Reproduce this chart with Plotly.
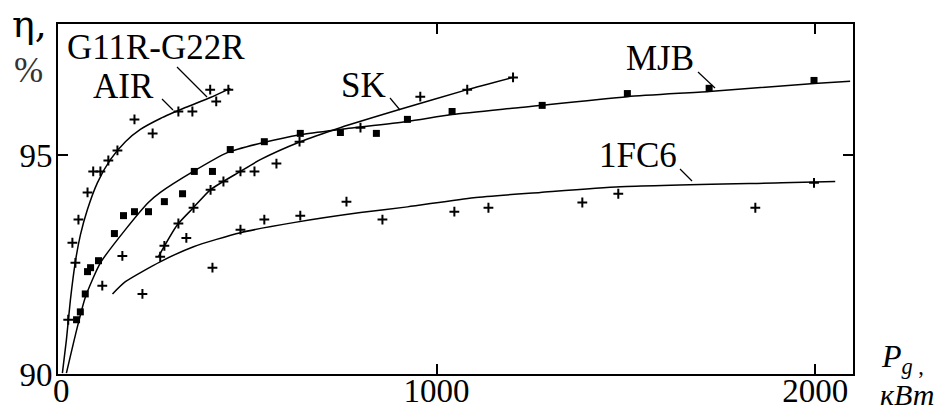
import plotly.graph_objects as go

# ---------------- data (P in kW, efficiency in %) ----------------
# G11R-G22R / AIR (plus markers)
air_pts_x = [27, 38, 46, 54, 78, 93, 112, 133, 157, 202, 250, 318, 355, 402, 418, 450]
air_pts_y = [91.24, 93.0, 92.54, 93.53, 94.15, 94.63, 94.63, 94.88, 95.11, 95.82, 95.50, 96.0, 96.0, 96.5, 96.23, 96.5]
air_fit_x = [11.6, 22.2, 32.7, 45.9, 59.2, 77.7, 104.0, 138.4, 178.0, 217.6, 270.4, 336.4, 402.4, 455.3]
air_fit_y = [90.02, 90.78, 91.69, 92.57, 93.18, 93.76, 94.37, 94.90, 95.31, 95.59, 95.84, 96.09, 96.32, 96.53]

# MJB (square markers)
mjb_pts_x = [49, 59, 72, 78, 86, 107, 149, 173, 202, 239, 281, 329, 360, 408, 455, 545, 640, 746, 841, 923, 1041, 1279, 1504, 1720, 1997]
mjb_pts_y = [91.24, 91.42, 91.83, 92.34, 92.43, 92.59, 93.21, 93.62, 93.71, 93.71, 93.94, 94.12, 94.63, 94.63, 95.13, 95.31, 95.50, 95.52, 95.50, 95.82, 96.0, 96.14, 96.41, 96.53, 96.71]
mjb_fit_x = [22.2, 45.9, 72.4, 112.0, 178.0, 238.7, 270.4, 357.5, 447.3, 542.4, 640.0, 745.6, 922.6, 1041.4, 1221, 1503.6, 1720.1, 1997.4, 2092.4]
mjb_fit_y = [90.02, 90.89, 91.76, 92.54, 93.30, 93.92, 94.15, 94.63, 95.06, 95.29, 95.47, 95.59, 95.77, 95.93, 96.09, 96.34, 96.46, 96.64, 96.69]

# SK (plus markers)
sk_pts_x = [170, 270, 281, 318, 339, 358, 403, 437, 482, 519, 577, 638, 799, 957, 1081, 1202]
sk_pts_y = [92.70, 92.68, 92.93, 93.44, 93.11, 93.80, 94.21, 94.40, 94.63, 94.63, 94.81, 95.31, 95.63, 96.34, 96.50, 96.78]
sk_fit_x = [265.1, 315.3, 357.5, 402.4, 481.6, 534.4, 640.0, 745.6, 904.1, 1081.0, 1202.5]
sk_fit_y = [92.68, 93.41, 93.80, 94.21, 94.63, 94.90, 95.31, 95.63, 96.05, 96.50, 96.78]

# 1FC6 (plus markers)
fc_pts_x = [117, 223, 408, 482, 545, 640, 762, 857, 1047, 1137, 1385, 1480, 1842, 1997]
fc_pts_y = [92.02, 91.83, 92.43, 93.30, 93.53, 93.62, 93.94, 93.53, 93.71, 93.80, 93.92, 94.12, 93.80, 94.37]
fc_fit_x = [144, 178, 271, 358, 482, 622, 799, 923, 1098, 1274, 1485, 1913, 2053]
fc_fit_y = [91.83, 92.11, 92.57, 92.91, 93.23, 93.46, 93.69, 93.82, 94.03, 94.15, 94.28, 94.37, 94.40]

x_ticks = [0, 1000, 2000]
x_tick_text = ["\u20090", "1000", "2000"]
y_ticks = [90, 95]
y_tick_text = ["90", "95"]

# ---------------- layout geometry (pixels) ----------------
W, H = 944, 416
ML, MR, MT, MB = 58, 91, 24, 42
PW, PH = W - ML - MR, H - MT - MB
FONT = "Liberation Serif"


def px(x):
    return (x - ML) / PW


def py(y):
    return (H - MB - y) / PH


fig = go.Figure()

line_style = dict(color="black", width=1.5, shape="spline", smoothing=0.6)
plus_marker = dict(symbol="cross-thin", size=7, line=dict(color="black", width=2), color="black")
square_marker = dict(symbol="square", size=7, color="black", line=dict(width=0))

for name, fx, fy in [("G11R-G22R, AIR", air_fit_x, air_fit_y),
                     ("MJB", mjb_fit_x, mjb_fit_y),
                     ("SK", sk_fit_x, sk_fit_y),
                     ("1FC6", fc_fit_x, fc_fit_y)]:
    fig.add_trace(go.Scatter(x=fx, y=fy, mode="lines", line=line_style, name=name,
                             showlegend=False, hoverinfo="skip"))

for name, xs, ys, mk in [("G11R-G22R, AIR", air_pts_x, air_pts_y, plus_marker),
                         ("MJB", mjb_pts_x, mjb_pts_y, square_marker),
                         ("SK", sk_pts_x, sk_pts_y, plus_marker),
                         ("1FC6", fc_pts_x, fc_pts_y, plus_marker)]:
    fig.add_trace(go.Scatter(x=xs, y=ys, mode="markers", marker=mk, name=name,
                             showlegend=False))

# curve labels with leader lines
labels = [
    ("G11R-G22R", 156, 47.5, (177, 67, 207, 97)),
    ("AIR", 123, 86, (162, 99, 173, 110)),
    ("SK", 363, 85, (390, 98, 400, 110)),
    ("MJB", 660, 58, (698, 72, 715, 88)),
    ("1FC6", 638, 155.5, (680, 169, 692, 181)),
]
annotations = []
shapes = []
for text, cx, cy, (x0, y0, x1, y1) in labels:
    annotations.append(dict(text=text, x=px(cx), y=py(cy), xref="paper", yref="paper",
                            xanchor="center", yanchor="middle", showarrow=False,
                            font=dict(family=FONT, size=35, color="black")))
    shapes.append(dict(type="line", xref="paper", yref="paper",
                       x0=px(x0), y0=py(y0), x1=px(x1), y1=py(y1),
                       line=dict(color="black", width=1.2)))

# axis titles
annotations += [
    dict(text="\u03b7,", x=px(29), y=py(24), xref="paper", yref="paper", xanchor="center",
         yanchor="middle", showarrow=False,
         font=dict(family="DejaVu Serif", size=38, color="black")),
    dict(text="%", x=px(28), y=py(70), xref="paper", yref="paper", xanchor="center",
         yanchor="middle", showarrow=False, font=dict(family=FONT, size=35, color="#333")),
    dict(text="<i>P</i><sub><i>g</i> ,</sub>", x=px(879), y=py(358), xref="paper", yref="paper",
         xanchor="left", yanchor="middle", showarrow=False,
         font=dict(family=FONT, size=32, color="black")),
    dict(text="<i>\u043a\u0412\u0442</i>", x=px(907), y=py(394), xref="paper", yref="paper",
         xanchor="center", yanchor="middle", showarrow=False,
         font=dict(family=FONT, size=30, color="black")),
]

axis_common = dict(showline=True, linecolor="black", linewidth=2, mirror="ticks",
                   ticks="inside", ticklen=10, tickwidth=1.5, tickcolor="black",
                   showgrid=False, zeroline=False, automargin=False,
                   tickfont=dict(family=FONT, size=33, color="black"))

fig.update_layout(
    width=W, height=H,
    font=dict(family=FONT, color="black"),
    margin=dict(l=ML, r=MR, t=MT, b=MB, pad=0),
    paper_bgcolor="white", plot_bgcolor="white",
    xaxis=dict(range=[0, 2100], tickvals=x_ticks, ticktext=x_tick_text,
               ticklabelstandoff=-14, **axis_common),
    yaxis=dict(range=[90, 98], tickvals=y_ticks, ticktext=y_tick_text,
               ticklabelstandoff=-3, **axis_common),
    annotations=annotations, shapes=shapes, showlegend=False,
)

fig.write_html("out.html")
